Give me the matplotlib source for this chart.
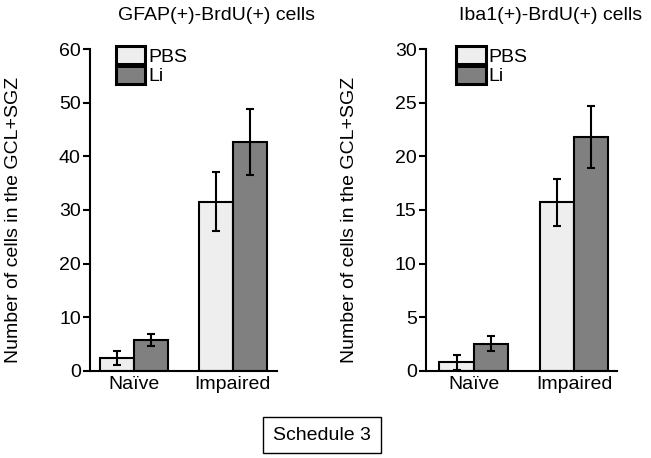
import matplotlib.pyplot as plt
import numpy as np

plt.rcParams['font.family'] = ['Liberation Sans', 'DejaVu Sans']

groups = ['Naïve', 'Impaired']
series = ['PBS', 'Li']

gfap_mean = {'PBS': [2.3, 31.5], 'Li': [5.7, 42.7]}
gfap_err = {'PBS': [1.3, 5.5], 'Li': [1.1, 6.1]}

iba_mean = {'PBS': [0.8, 15.7], 'Li': [2.5, 21.8]}
iba_err = {'PBS': [0.7, 2.2], 'Li': [0.7, 2.9]}

titles = ['GFAP(+)-BrdU(+) cells', 'Iba1(+)-BrdU(+) cells']
ylabel = 'Number of cells in the GCL+SGZ'
colors = {'PBS': '#eeeeee', 'Li': '#808080'}
fs = 14

fig = plt.figure(figsize=(6.51, 4.58), dpi=100)
ax1 = fig.add_axes([0.138, 0.1906, 0.287, 0.702])
ax2 = fig.add_axes([0.654, 0.1906, 0.294, 0.702])

width = 0.343
x = np.arange(len(groups))


def draw(ax, means, errs, ymax, step, xlim, legx):
    for i, s in enumerate(series):
        off = (i - 0.5) * width
        ax.bar(x + off, means[s], width=width, color=colors[s],
               edgecolor='black', linewidth=1.5, label=s, zorder=2)
        ax.errorbar(x + off, means[s], yerr=errs[s], fmt='none',
                    ecolor='black', elinewidth=1.5, capsize=3,
                    capthick=1.5, zorder=3)
    ax.set_ylim(0, ymax)
    ax.set_yticks(np.arange(0, ymax + 1, step))
    ax.set_xlim(*xlim)
    ax.set_xticks(x, groups)
    for side in ['top', 'right']:
        ax.spines[side].set_visible(False)
    for side in ['left', 'bottom']:
        ax.spines[side].set_linewidth(1.5)
    ax.tick_params(axis='x', length=0, labelsize=fs, pad=4)
    ax.tick_params(axis='y', length=5, width=1.5, labelsize=fs, pad=1.5)
    leg = ax.legend(loc='upper left', bbox_to_anchor=(legx, 1.01),
                    frameon=False, fontsize=fs, handlelength=1.5,
                    handleheight=1.05, labelspacing=0.0,
                    handletextpad=0.15, borderaxespad=0, borderpad=0)
    for h in leg.legend_handles:
        h.set_linewidth(2.2)


draw(ax1, gfap_mean, gfap_err, 60, 10, (-0.445, 1.445), 0.14)
draw(ax2, iba_mean, iba_err, 30, 5, (-0.48, 1.43), 0.16)

fig.text(217 / 651, 1 - 15 / 458, titles[0], ha='center', va='center',
         fontsize=fs)
fig.text(551 / 651, 1 - 15 / 458, titles[1], ha='center', va='center',
         fontsize=fs)
fig.text(14 / 651, 1 - 220 / 458, ylabel, rotation=90, ha='center',
         va='center', fontsize=fs)
fig.text(350 / 651, 1 - 220 / 458, ylabel, rotation=90, ha='center',
         va='center', fontsize=fs)

fig.text(322 / 651, 1 - 435 / 458, 'Schedule 3', ha='center', va='center',
         fontsize=fs,
         bbox=dict(boxstyle='square,pad=0.5', facecolor='white',
                   edgecolor='black', linewidth=1))

fig.savefig('out.png', dpi=100)
